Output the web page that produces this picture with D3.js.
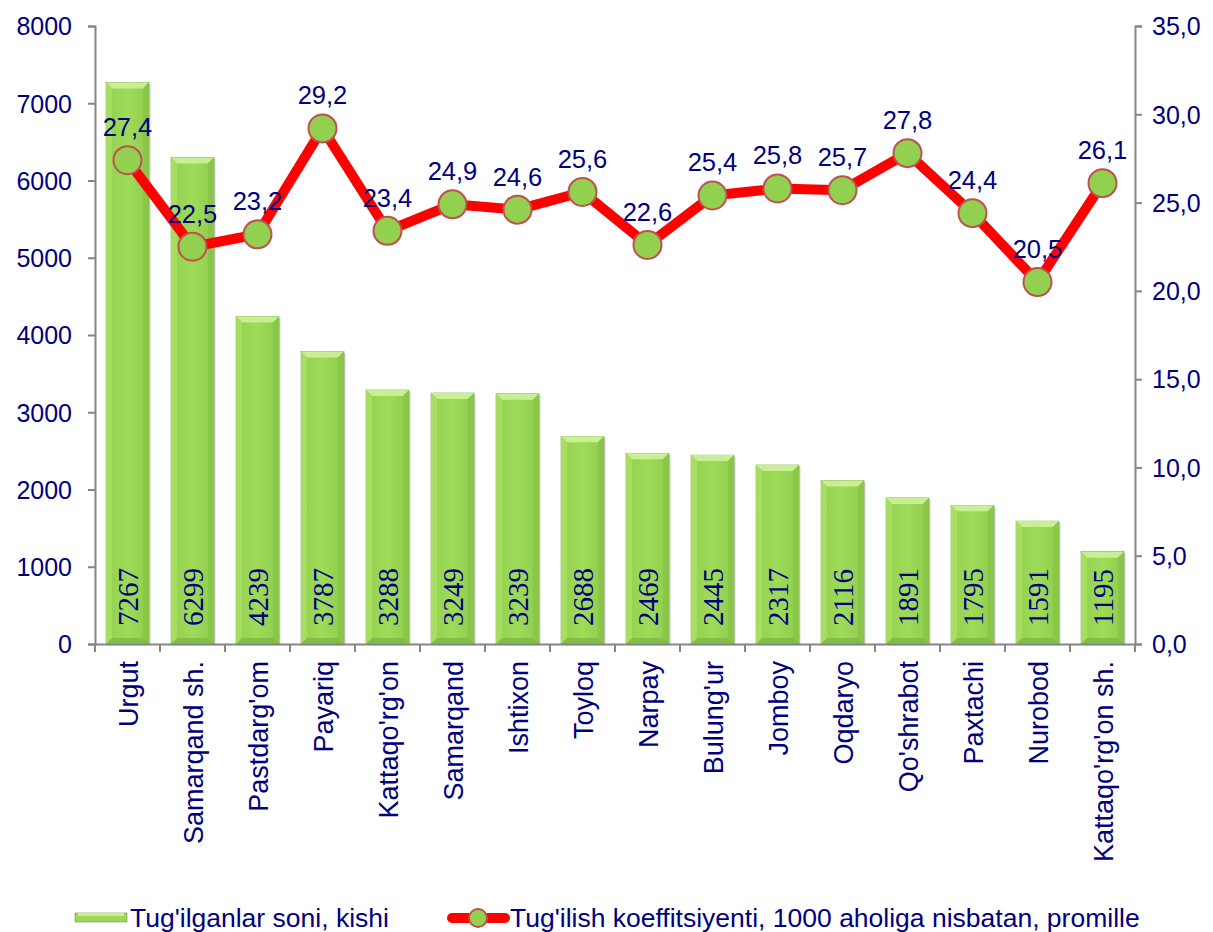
<!DOCTYPE html>
<html>
<head>
<meta charset="utf-8">
<script src="https://cdn.jsdelivr.net/npm/d3@7"></script>
<style>
  body { margin: 0; background: #fff; }
  svg text { font-family: "Liberation Sans", Arial, sans-serif; fill: #000080; }
</style>
</head>
<body>
<svg id="chart" width="1213" height="932"></svg>
<script>
// districts
const districts = ["Urgut", "Samarqand sh.", "Pastdarg'om", "Payariq", "Kattaqo'rg'on", "Samarqand",
  "Ishtixon", "Toyloq", "Narpay", "Bulung'ur", "Jomboy", "Oqdaryo", "Qo'shrabot", "Paxtachi",
  "Nurobod", "Kattaqo'rg'on sh."];
// births (persons)
const births = [7267, 6299, 4239, 3787, 3288, 3249, 3239, 2688, 2469, 2445, 2317, 2116, 1891, 1795, 1591, 1195];
// birth rate per 1000
const birthRate = [27.4, 22.5, 23.2, 29.2, 23.4, 24.9, 24.6, 25.6, 22.6, 25.4, 25.8, 25.7, 27.8, 24.4, 20.5, 26.1];
const leftTicks = [0, 1000, 2000, 3000, 4000, 5000, 6000, 7000, 8000];
const rightTicks = [0, 5, 10, 15, 20, 25, 30, 35];
const legendLabels = ["Tug'ilganlar soni, kishi", "Tug'ilish koeffitsiyenti, 1000 aholiga nisbatan, promille"];

const svg = d3.select("#chart");
const plot = { left: 95, right: 1135, top: 26, bottom: 644 };

const x = d3.scaleBand().domain(districts).range([plot.left, plot.right]).paddingInner(0.34).paddingOuter(0.17);
const yL = d3.scaleLinear().domain([0, 8000]).range([plot.bottom, plot.top]);
const yR = d3.scaleLinear().domain([0, 35]).range([plot.bottom, plot.top]);
const fmt = d => d3.format(".1f")(d).replace(".", ",");

const defs = svg.append("defs");
const grad = defs.append("linearGradient").attr("id", "barGrad").attr("x1", "0").attr("x2", "1").attr("y1", "0").attr("y2", "0");
grad.append("stop").attr("offset", "0%").attr("stop-color", "#92d050");
grad.append("stop").attr("offset", "50%").attr("stop-color", "#9edb58");
grad.append("stop").attr("offset", "100%").attr("stop-color", "#8fcc4d");

// bars with bevel
const bw = x.bandwidth();
const bev = 6;
const bars = svg.append("g").selectAll("g").data(districts).join("g");
bars.append("rect")
  .attr("x", d => x(d) + 1.5).attr("y", (d, i) => yL(births[i]) + 1.5)
  .attr("width", bw).attr("height", (d, i) => plot.bottom - yL(births[i]))
  .attr("fill", "#7a7a7a").attr("opacity", 0.35);
bars.append("rect")
  .attr("x", d => x(d)).attr("y", (d, i) => yL(births[i]))
  .attr("width", bw).attr("height", (d, i) => plot.bottom - yL(births[i]))
  .attr("fill", "url(#barGrad)").attr("stroke", "#6f9a3a").attr("stroke-width", 0.6);
// top bevel
bars.append("path")
  .attr("d", (d, i) => {
    const x0 = x(d), y0 = yL(births[i]);
    return `M${x0},${y0}L${x0 + bw},${y0}L${x0 + bw - bev},${y0 + bev}L${x0 + bev},${y0 + bev}Z`;
  })
  .attr("fill", "#c9ef94");
// left bevel
bars.append("path")
  .attr("d", (d, i) => {
    const x0 = x(d), y0 = yL(births[i]);
    return `M${x0},${y0}L${x0 + bev},${y0 + bev}L${x0 + bev},${plot.bottom - bev}L${x0},${plot.bottom}Z`;
  })
  .attr("fill", "#a6de62");
// right bevel
bars.append("path")
  .attr("d", (d, i) => {
    const x0 = x(d) + bw, y0 = yL(births[i]);
    return `M${x0},${y0}L${x0 - bev},${y0 + bev}L${x0 - bev},${plot.bottom - bev}L${x0},${plot.bottom}Z`;
  })
  .attr("fill", "#8ac648");
// bottom bevel
bars.append("path")
  .attr("d", d => {
    const x0 = x(d);
    return `M${x0},${plot.bottom}L${x0 + bev},${plot.bottom - bev}L${x0 + bw - bev},${plot.bottom - bev}L${x0 + bw},${plot.bottom}Z`;
  })
  .attr("fill", "#84bd45");

// bar value labels
bars.append("text")
  .attr("transform", d => `translate(${x(d) + bw / 2 + 10},626) rotate(-90)`)
  .attr("text-anchor", "start")
  .style("font-family", "'Liberation Serif', 'Times New Roman', serif")
  .style("font-size", "29px")
  .text((d, i) => births[i]);

// axes
const axisColor = "#868686";
const leftAxis = svg.append("g").attr("transform", `translate(${plot.left},0)`)
  .call(d3.axisLeft(yL).tickValues(leftTicks).tickSize(7).tickPadding(16).tickFormat(d3.format("d")));
const rightAxis = svg.append("g").attr("transform", `translate(${plot.right},0)`)
  .call(d3.axisRight(yR).tickValues(rightTicks).tickSize(7).tickPadding(10).tickFormat(fmt));
const bottomAxis = svg.append("g").attr("transform", `translate(0,${plot.bottom})`)
  .call(d3.axisBottom(x).tickSize(0).tickFormat(""));
[leftAxis, rightAxis, bottomAxis].forEach(g => {
  g.select(".domain").attr("stroke", axisColor).attr("stroke-width", 2);
  g.selectAll(".tick line").attr("stroke", axisColor).attr("stroke-width", 2);
  g.selectAll(".tick text").style("font-size", "25px").attr("fill", "#000080");
});
leftAxis.selectAll(".tick text").attr("dy", "0.35em");
rightAxis.selectAll(".tick text").attr("dy", "0.35em");
// category boundary ticks
const boundaries = d3.range(districts.length + 1).map(i => plot.left + i * (plot.right - plot.left) / districts.length);
svg.append("g").selectAll("line").data(boundaries).join("line")
  .attr("x1", d => d).attr("x2", d => d)
  .attr("y1", plot.bottom).attr("y2", plot.bottom + 8)
  .attr("stroke", axisColor).attr("stroke-width", 2);

// category labels
svg.append("g").selectAll("text").data(districts).join("text")
  .attr("transform", d => `translate(${x(d) + bw / 2 + 10},661) rotate(-90)`)
  .attr("text-anchor", "end")
  .style("font-size", "27px")
  .text(d => d);

// line
const cx = d => x(d) + bw / 2;
const line = d3.line().x((d, i) => cx(districts[i])).y(d => yR(d));
svg.append("path").datum(birthRate)
  .attr("d", line).attr("fill", "none")
  .attr("stroke", "#ff0000").attr("stroke-width", 10).attr("stroke-linejoin", "round");
svg.append("g").selectAll("circle").data(birthRate).join("circle")
  .attr("cx", (d, i) => cx(districts[i])).attr("cy", d => yR(d)).attr("r", 14)
  .attr("fill", "#92d050").attr("stroke", "#c0504d").attr("stroke-width", 2);
svg.append("g").selectAll("text").data(birthRate).join("text")
  .attr("x", (d, i) => cx(districts[i])).attr("y", d => yR(d) - 33)
  .attr("dy", "0.35em")
  .attr("text-anchor", "middle")
  .style("font-size", "25.5px")
  .text(d => fmt(d));

// legend
const lg = svg.append("g");
lg.append("rect").attr("x", 75).attr("y", 913).attr("width", 52).attr("height", 9)
  .attr("fill", "#9bd857").attr("stroke", "#6f9a3a").attr("stroke-width", 0.6);
lg.append("rect").attr("x", 78).attr("y", 913).attr("width", 46).attr("height", 3).attr("fill", "#c9ef94");
lg.append("text").attr("x", 130).attr("y", 918).attr("dy", "0.35em").style("font-size", "26.5px").text(legendLabels[0]);
lg.append("line").attr("x1", 452).attr("x2", 505).attr("y1", 918).attr("y2", 918)
  .attr("stroke", "#ff0000").attr("stroke-width", 10).attr("stroke-linecap", "round");
lg.append("circle").attr("cx", 478).attr("cy", 918).attr("r", 9)
  .attr("fill", "#92d050").attr("stroke", "#c0504d").attr("stroke-width", 2);
lg.append("text").attr("x", 510).attr("y", 918).attr("dy", "0.35em").style("font-size", "26.5px").text(legendLabels[1]);
</script>
</body>
</html>
